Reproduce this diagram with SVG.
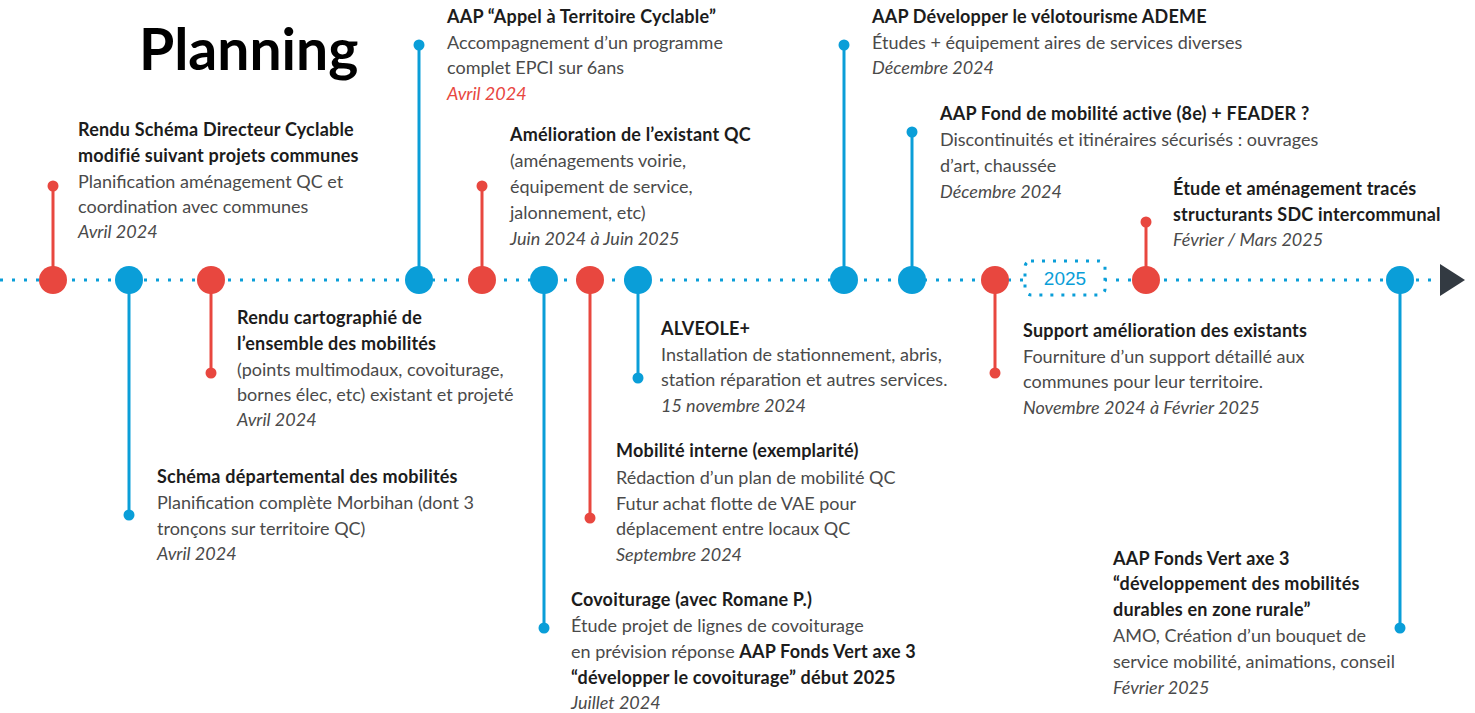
<svg xmlns="http://www.w3.org/2000/svg" width="1475" height="713" viewBox="0 0 1475 713">
<style>
text{font-family:Lato,"Noto Sans",sans-serif;font-size:18px;fill:#4a4a4a}
.h{font-weight:bold;fill:#1c1c1c;letter-spacing:0.2px}
.d{font-style:italic;fill:#4a4a4a}
.r{fill:#e8473f}
.b{fill:#0a9ed8}
.sr{stroke:#e8473f;stroke-width:3}
.sb{stroke:#0a9ed8;stroke-width:3}
</style>
<rect width="1475" height="713" fill="#fff"/>
<text x="139" y="70" style="font-size:57px;font-weight:bold;fill:#000">Planning</text>
<g id="connectors">
<line x1="0" y1="280" x2="1440" y2="280" stroke="#0a9ed8" stroke-width="3" stroke-dasharray="3 9"/>
<polygon points="1440,264 1465,280 1440,296" fill="#333a42"/>
<line class="sr" x1="53" y1="280" x2="53" y2="186"/>
<line class="sb" x1="129" y1="280" x2="129" y2="515"/>
<line class="sr" x1="211" y1="280" x2="211" y2="373"/>
<line class="sb" x1="419" y1="280" x2="419" y2="45"/>
<line class="sr" x1="482" y1="280" x2="482" y2="186"/>
<line class="sb" x1="544" y1="280" x2="544" y2="628"/>
<line class="sr" x1="590" y1="280" x2="590" y2="518"/>
<line class="sb" x1="638" y1="280" x2="638" y2="378"/>
<line class="sb" x1="844" y1="280" x2="844" y2="45"/>
<line class="sb" x1="912" y1="280" x2="912" y2="132"/>
<line class="sr" x1="995" y1="280" x2="995" y2="373"/>
<line class="sr" x1="1146" y1="280" x2="1146" y2="222"/>
<line class="sb" x1="1400" y1="280" x2="1400" y2="628"/>
</g>
<g id="year2025">
<rect x="1025" y="261" width="80" height="34" rx="6" fill="#fff" stroke="#0a9ed8" stroke-width="3" stroke-dasharray="3 8"/>
<text x="1065" y="285" text-anchor="middle" style="font-family:'Liberation Sans',Arial,sans-serif;font-size:19px;fill:#0a9ed8">2025</text>
</g>
<g id="n1"><circle cx="53" cy="280" r="14" class="r"/><circle cx="53" cy="186" r="5.5" class="r"/>
<text x="78" y="136" class="h">Rendu Schéma Directeur Cyclable</text>
<text x="78" y="162" class="h">modifié suivant projets communes</text>
<text x="78" y="188">Planification aménagement QC et</text>
<text x="78" y="213">coordination avec communes</text>
<text x="78" y="238" class="d">Avril 2024</text></g>
<g id="n2"><circle cx="129" cy="280" r="14" class="b"/><circle cx="129" cy="515" r="5.5" class="b"/>
<text x="157" y="483" class="h">Schéma départemental des mobilités</text>
<text x="157" y="509">Planification complète Morbihan (dont 3</text>
<text x="157" y="535">tronçons sur territoire QC)</text>
<text x="157" y="560" class="d">Avril 2024</text></g>
<g id="n3"><circle cx="211" cy="280" r="14" class="r"/><circle cx="211" cy="373" r="5.5" class="r"/>
<text x="237" y="324" class="h">Rendu cartographié de</text>
<text x="237" y="350" class="h">l’ensemble des mobilités</text>
<text x="237" y="376">(points multimodaux, covoiturage,</text>
<text x="237" y="401">bornes élec, etc) existant et projeté</text>
<text x="237" y="426" class="d">Avril 2024</text></g>
<g id="n4"><circle cx="419" cy="280" r="14" class="b"/><circle cx="419" cy="45" r="5.5" class="b"/>
<text x="447" y="23" class="h">AAP “Appel à Territoire Cyclable”</text>
<text x="447" y="49">Accompagnement d’un programme</text>
<text x="447" y="74">complet EPCI sur 6ans</text>
<text x="447" y="100" class="d" style="fill:#e8473f">Avril 2024</text></g>
<g id="n5"><circle cx="482" cy="280" r="14" class="r"/><circle cx="482" cy="186" r="5.5" class="r"/>
<text x="510" y="141" class="h">Amélioration de l’existant QC</text>
<text x="510" y="167">(aménagements voirie,</text>
<text x="510" y="193">équipement de service,</text>
<text x="510" y="219">jalonnement, etc)</text>
<text x="510" y="245" class="d">Juin 2024 à Juin 2025</text></g>
<g id="n6"><circle cx="544" cy="280" r="14" class="b"/><circle cx="544" cy="628" r="5.5" class="b"/>
<text x="571" y="606" class="h">Covoiturage (avec Romane P.)</text>
<text x="571" y="632">Étude projet de lignes de covoiturage</text>
<text x="571" y="658">en prévision réponse <tspan class="h">AAP Fonds Vert axe 3</tspan></text>
<text x="571" y="684" class="h">“développer le covoiturage” début 2025</text>
<text x="571" y="709" class="d">Juillet 2024</text></g>
<g id="n7"><circle cx="590" cy="280" r="14" class="r"/><circle cx="590" cy="518" r="5.5" class="r"/>
<text x="616" y="457" class="h">Mobilité interne (exemplarité)</text>
<text x="616" y="484">Rédaction d’un plan de mobilité QC</text>
<text x="616" y="510">Futur achat flotte de VAE pour</text>
<text x="616" y="535">déplacement entre locaux QC</text>
<text x="616" y="561" class="d">Septembre 2024</text></g>
<g id="n8"><circle cx="638" cy="280" r="14" class="b"/><circle cx="638" cy="378" r="5.5" class="b"/>
<text x="661" y="335" class="h">ALVEOLE+</text>
<text x="661" y="361">Installation de stationnement, abris,</text>
<text x="661" y="386">station réparation et autres services.</text>
<text x="661" y="412" class="d">15 novembre 2024</text></g>
<g id="n9"><circle cx="844" cy="280" r="14" class="b"/><circle cx="844" cy="45" r="5.5" class="b"/>
<text x="872" y="23" class="h">AAP Développer le vélotourisme ADEME</text>
<text x="872" y="49">Études + équipement aires de services diverses</text>
<text x="872" y="74" class="d">Décembre 2024</text></g>
<g id="n10"><circle cx="912" cy="280" r="14" class="b"/><circle cx="912" cy="132" r="5.5" class="b"/>
<text x="940" y="120" class="h">AAP Fond de mobilité active (8e) + FEADER ?</text>
<text x="940" y="146">Discontinuités et itinéraires sécurisés : ouvrages</text>
<text x="940" y="172">d’art, chaussée</text>
<text x="940" y="198" class="d">Décembre 2024</text></g>
<g id="n11"><circle cx="995" cy="280" r="14" class="r"/><circle cx="995" cy="373" r="5.5" class="r"/>
<text x="1023" y="337" class="h">Support amélioration des existants</text>
<text x="1023" y="363">Fourniture d’un support détaillé aux</text>
<text x="1023" y="388">communes pour leur territoire.</text>
<text x="1023" y="414" class="d">Novembre 2024 à Février 2025</text></g>
<g id="n12"><circle cx="1146" cy="280" r="14" class="r"/><circle cx="1146" cy="222" r="5.5" class="r"/>
<text x="1173" y="195" class="h">Étude et aménagement tracés</text>
<text x="1173" y="221" class="h">structurants SDC intercommunal</text>
<text x="1173" y="246" class="d">Février / Mars 2025</text></g>
<g id="n13"><circle cx="1400" cy="280" r="14" class="b"/><circle cx="1400" cy="628" r="5.5" class="b"/>
<text x="1113" y="565" class="h">AAP Fonds Vert axe 3</text>
<text x="1113" y="590" class="h">“développement des mobilités</text>
<text x="1113" y="616" class="h">durables en zone rurale”</text>
<text x="1113" y="642">AMO, Création d’un bouquet de</text>
<text x="1113" y="668">service mobilité, animations, conseil</text>
<text x="1113" y="694" class="d">Février 2025</text></g>
</svg>
